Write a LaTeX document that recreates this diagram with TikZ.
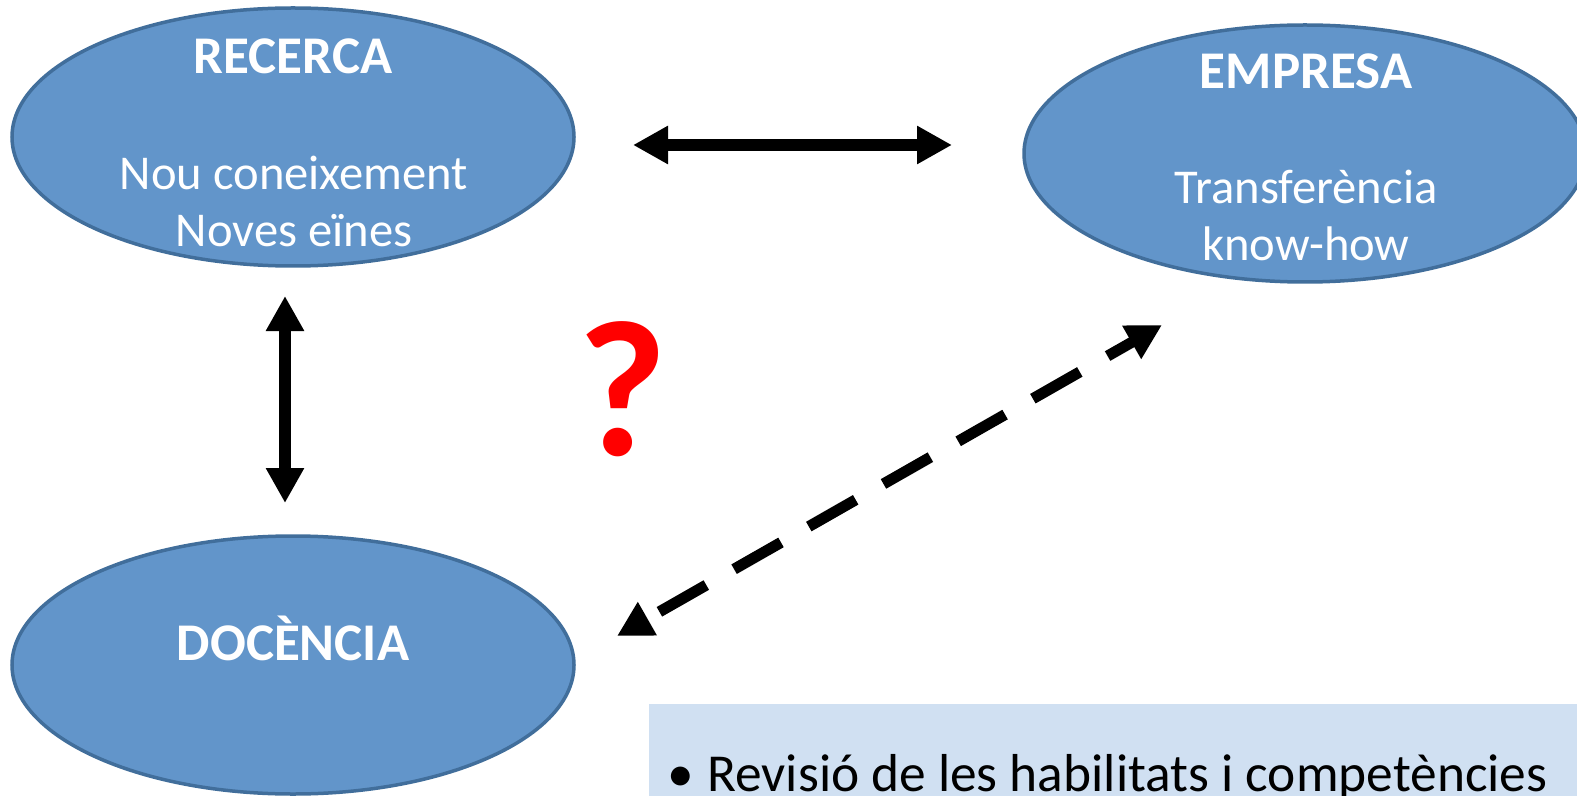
\documentclass[tikz,border=0pt]{standalone}
\usepackage{fontspec}
\setmainfont{Carlito}
\usetikzlibrary{arrows.meta,shapes.geometric}
\definecolor{ellfill}{RGB}{98,149,202}
\definecolor{elldraw}{RGB}{65,110,155}
\definecolor{boxfill}{RGB}{208,224,242}
\definecolor{qred}{RGB}{255,0,0}
\tikzset{
  ell/.style={ellipse, fill=ellfill, draw=elldraw, line width=1.75pt, inner sep=0pt,
              minimum width=281pt, minimum height=129pt},
  etxt/.style={anchor=base, inner sep=0pt, text=white, font=\fontsize{24.3}{28}\selectfont},
  ettl/.style={etxt, font=\fontsize{26.5}{30}\selectfont\bfseries},
  bigarrow/.style={line width=5.75pt, {Triangle[length=17.5pt,width=18pt]}-{Triangle[length=17.5pt,width=18pt]}},
  dasharrow/.style={bigarrow, line width=5.5pt, dash pattern=on 27pt off 16pt, dash phase=35pt},
  btxt/.style={anchor=base west, inner sep=0pt, text=black, font=\fontsize{26.7}{30}\selectfont}
}
\begin{document}
\begin{tikzpicture}[x=0.5pt,y=-0.5pt]
\useasboundingbox (0,0) rectangle (1577,796);
\clip (0,0) rectangle (1577,796);
% ellipses
\node[ell] (rec) at (293,137) {};
\node[ell, minimum height=128.5pt] (emp) at (1305,153.5) {};
\node[ell] (doc) at (293,665) {};
% texts
\node[ettl] (recT) at (293,74) {RECERCA};
\node[etxt] (rec1) at (294,190) {Nou coneixement};
\node[etxt] (rec2) at (294,247) {Noves eïnes};
\node[ettl] (empT) at (1306,88.5) {EMPRESA};
\node[etxt] (emp1) at (1306,204) {Transferència};
\node[etxt] (emp2) at (1306,261) {know-how};
\node[ettl] (docT) at (293,660) {DOCÈNCIA};
% question mark
\node[anchor=base, inner sep=0pt, text=qred, font=\fontsize{97}{104}\selectfont\bfseries] (q) at (622,455) {?};
% bottom box
\fill[boxfill] (649,704) rectangle (1577,800);
\node[btxt] (bul) at (667,791) {•};
\node[btxt] (rev) at (707,791) {Revisió de les habilitats i competències};
% arrow endpoints
\coordinate (hL) at (633,145);
\coordinate (hR) at (952,145);
\coordinate (vT) at (285,296);
\coordinate (vB) at (285,503);
\coordinate (dL) at (617,636);
\coordinate (dR) at (1162,325);
\draw[bigarrow] (hL) -- (hR);
\draw[bigarrow] (vT) -- (vB);
\draw[dasharrow] (dL) -- (dR);
\end{tikzpicture}
\end{document}
